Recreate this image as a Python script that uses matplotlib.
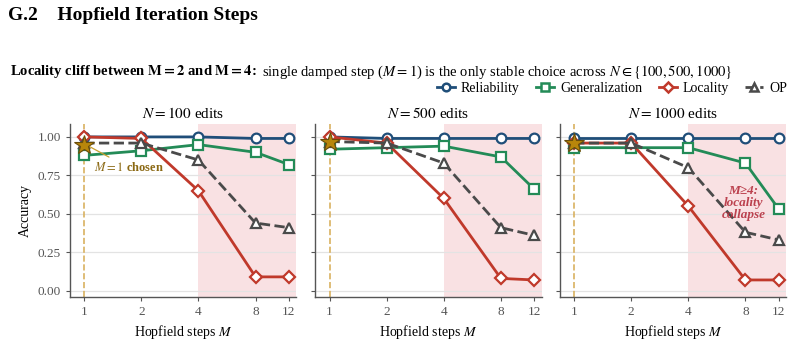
import matplotlib
matplotlib.use("Agg")
import matplotlib.pyplot as plt
from matplotlib.lines import Line2D

plt.rcParams['font.family'] = ['Liberation Serif', 'DejaVu Serif']
plt.rcParams['mathtext.fontset'] = 'stix'

steps = [1, 2, 4, 8, 12]
edits = [100, 500, 1000]
series_names = ["Reliability", "Generalization", "Locality", "OP"]

reliability = {100: [1.00, 1.00, 1.00, 0.99, 0.99],
               500: [1.00, 0.99, 0.99, 0.99, 0.99],
               1000: [0.99, 0.99, 0.99, 0.99, 0.99]}
generalization = {100: [0.88, 0.91, 0.95, 0.90, 0.82],
                  500: [0.92, 0.93, 0.94, 0.87, 0.66],
                  1000: [0.93, 0.93, 0.93, 0.83, 0.53]}
locality = {100: [1.00, 0.99, 0.65, 0.09, 0.09],
            500: [1.00, 0.96, 0.60, 0.08, 0.07],
            1000: [0.96, 0.96, 0.55, 0.07, 0.07]}
op = {100: [0.96, 0.96, 0.85, 0.44, 0.41],
      500: [0.97, 0.96, 0.83, 0.41, 0.36],
      1000: [0.96, 0.96, 0.80, 0.38, 0.33]}

colors = {"Reliability": "#1f4e79", "Generalization": "#238b57",
          "Locality": "#c0392b", "OP": "#4a4a4a"}
markers = {"Reliability": "o", "Generalization": "s", "Locality": "D", "OP": "^"}
styles = {"Reliability": "-", "Generalization": "-", "Locality": "-", "OP": "--"}
msizes = {"Reliability": 7, "Generalization": 7, "Locality": 6.5, "OP": 7.5}
data = {"Reliability": reliability, "Generalization": generalization,
        "Locality": locality, "OP": op}

fig = plt.figure(figsize=(7.94, 3.44), dpi=100)
lefts = [0.088, 0.397, 0.705]
axes = []
for i, n in enumerate(edits):
    ax = fig.add_axes([lefts[i], 0.137, 0.285, 0.503])
    axes.append(ax)
    ax.set_xscale('log', base=2)
    ax.set_xlim(0.84, 13.1)
    ax.set_ylim(-0.04, 1.085)
    ax.axvspan(4, 13.1, color='#f9e1e3', zorder=0, lw=0)
    ax.set_yticks([0, 0.25, 0.5, 0.75, 1.0])
    ax.grid(axis='y', color='#e3e3e3', lw=0.9, zorder=0)
    ax.set_axisbelow(True)
    ax.axvline(1, color='#d9b160', ls='--', lw=1.2, zorder=1)
    for name in ["Reliability", "Generalization", "Locality", "OP"]:
        ax.plot(steps, data[name][n], color=colors[name], ls=styles[name], lw=2,
                marker=markers[name], ms=msizes[name], mfc='white', mec=colors[name],
                mew=1.6, zorder=3)
    ax.plot([1], [op[n][0] - (0.01 if n == 100 else 0)], marker='*', ms=15,
            color='#b8860b', mec='#6b4e0a', mew=0.8, zorder=5, ls='none')
    ax.set_xticks(steps)
    ax.set_xticklabels([str(s) for s in steps])
    ax.set_xticks([], minor=True)
    ax.set_title(r"$N = %d$ edits" % n, fontsize=11, pad=4)
    ax.set_xlabel(r"Hopfield steps $M$", fontsize=10)
    for s in ['top', 'right']:
        ax.spines[s].set_visible(False)
    for s in ['left', 'bottom']:
        ax.spines[s].set_color('#555555')
        ax.spines[s].set_linewidth(1.0)
    ax.tick_params(labelsize=9.5, colors='#555555', length=3)
    if i == 0:
        ax.set_ylabel("Accuracy", fontsize=10)
        ax.set_yticklabels(["0.00", "0.25", "0.50", "0.75", "1.00"])
    else:
        ax.set_yticklabels([])

axes[0].annotate(r"$M = 1$ chosen", xy=(1.02, 0.95), xytext=(1.12, 0.80),
                 fontsize=9, color='#8b6914', fontweight='bold',
                 arrowprops=dict(arrowstyle='-', color='#c9a030', lw=0.9),
                 ha='left', va='center')
axes[2].text(7.8, 0.57, "M≥4:\nlocality\ncollapse",
             fontsize=9.5, color='#b5303e', alpha=0.9, fontweight='bold', fontstyle='italic',
             ha='center', va='center', linespacing=1.0, zorder=6)

fig.text(0.010, 0.955, "G.2    Hopfield Iteration Steps", fontsize=14,
         fontweight='bold', ha='left', va='center')
t1 = fig.text(0.013, 0.791, r"Locality cliff between $\mathbf{M = 2}$ and $\mathbf{M = 4}$:",
              fontsize=10.5, fontweight='bold', ha='left', va='center')
fig.canvas.draw()
bb = t1.get_window_extent(renderer=fig.canvas.get_renderer())
x2 = (bb.x1 + 5) / fig.bbox.width
fig.text(x2, 0.791,
         r"single damped step ($M = 1$) is the only stable choice across $N \in \{100, 500, 1000\}$",
         fontsize=10.5, ha='left', va='center')

handles = [Line2D([], [], color=colors[n], ls=styles[n], lw=2, marker=markers[n],
                  ms=5.5, mfc='white', mec=colors[n], mew=1.8)
           for n in series_names]
fig.legend(handles, series_names, loc='center right', bbox_to_anchor=(0.998, 0.743),
           ncol=4, frameon=False, fontsize=10, handlelength=1.3, handletextpad=0.4,
           columnspacing=1.2, borderaxespad=0)

fig.savefig("out.png", dpi=100)
